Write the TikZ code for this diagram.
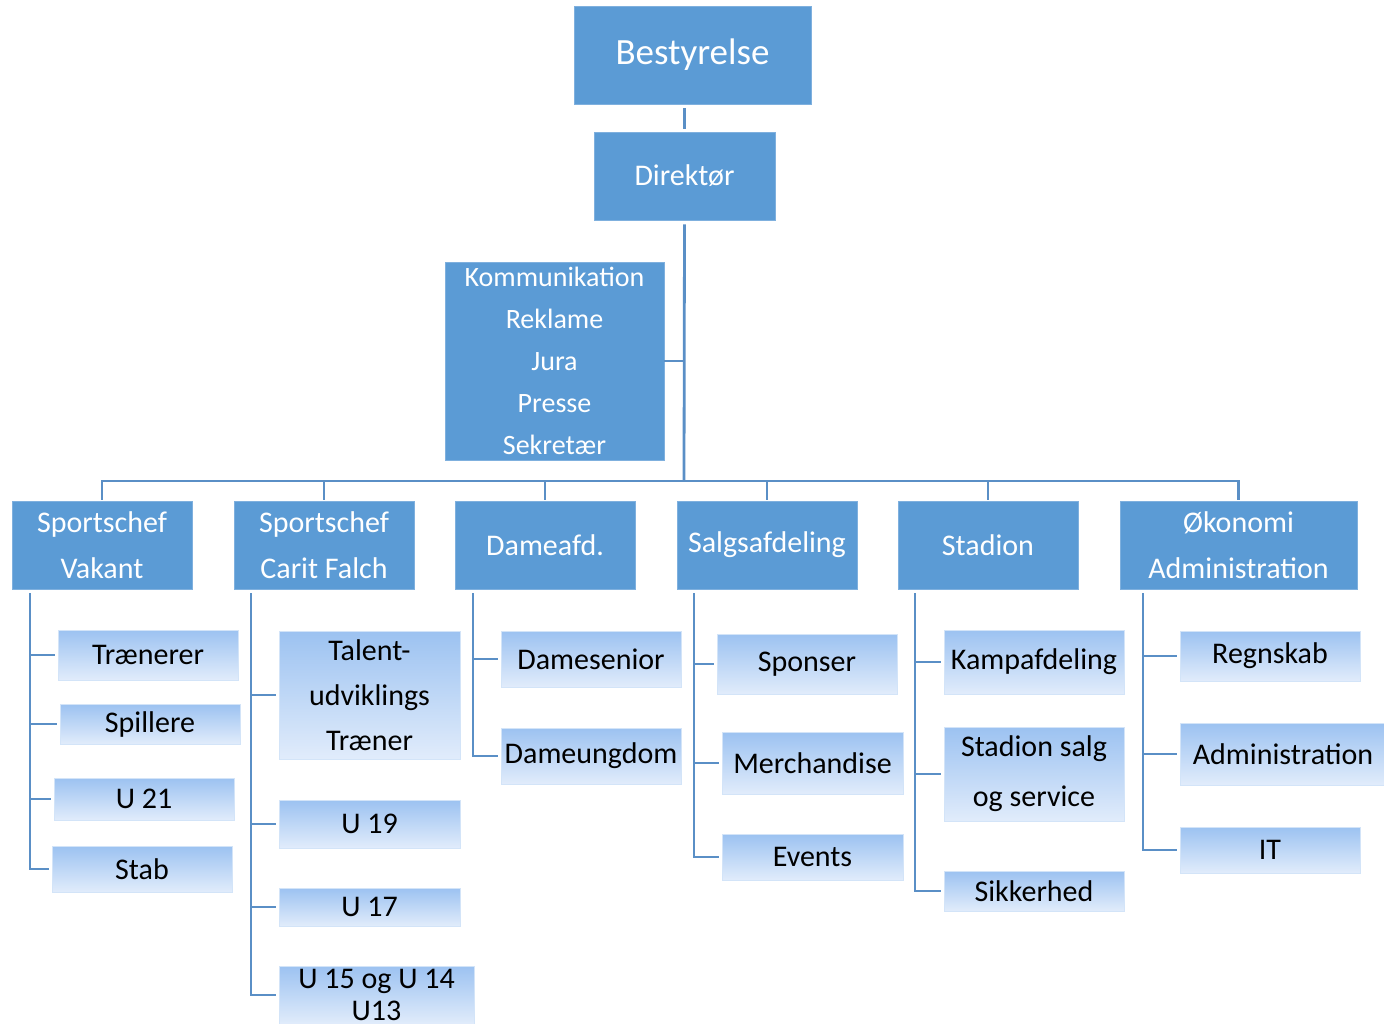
\documentclass[tikz,border=0pt]{standalone}
\usepackage{fontspec}
\setmainfont{Carlito}
\definecolor{topblue}{HTML}{5B9BD5}
\definecolor{topedge}{HTML}{7FB0DE}
\definecolor{subtop}{HTML}{9CC2F1}
\definecolor{subbot}{HTML}{E1ECFB}
\definecolor{subedge}{HTML}{D3E4F8}
\definecolor{linkblue}{HTML}{5A8FC6}
\tikzset{
  boss/.style={fill=topblue, draw=topedge, line width=0.8pt, text=white, align=center, inner sep=0pt},
  sub/.style={top color=subtop, bottom color=subbot, draw=subedge, line width=0.8pt, text=black, align=center, inner sep=0pt},
  link/.style={draw=linkblue, line width=2.8pt},
  fsz/.style={font=\fontsize{30}{46}\selectfont},
  box/.style 2 args={minimum width=#1pt, minimum height=#2pt},
}
\begin{document}
\begin{tikzpicture}[x=1pt,y=-1pt]
\useasboundingbox (0,0) rectangle (1384,1023);
% top
\node[boss, box={237}{98}, font=\fontsize{37}{44}\selectfont] (best) at (692.5,55) {Bestyrelse};
\node[boss, box={181}{88}, fsz] (dir) at (684.5,176) {Direktør};
\node[boss, box={219}{198}, font=\fontsize{28}{42}\selectfont] (kom) at (554.5,361)
  {Kommunikation\\Reklame\\Jura\\Presse\\Sekretær};
\coordinate (bus) at (684,481);
% level 2
\node[boss, box={180}{88}, fsz] (l1) at (102,545) {Sportschef\\Vakant};
\node[boss, box={180}{88}, fsz] (l2) at (324,545) {Sportschef\\Carit Falch};
\node[boss, box={180}{88}, fsz] (l3) at (545,545) {Dameafd.};
\node[boss, box={180}{88}, fsz] (l4) at (767,545) {Salgsafdeling};
\node[boss, box={180}{88}, fsz] (l5) at (988,545) {Stadion};
\node[boss, box={237}{88}, fsz] (l6) at (1238.5,545) {Økonomi\\Administration};
% column 1
\node[sub, box={180}{50}, fsz] (a1) at (148,655) {Trænerer};
\node[sub, box={180}{40}, fsz] (a2) at (150,724) {Spillere};
\node[sub, box={180}{42}, fsz] (a3) at (144,799) {U 21};
\node[sub, box={180}{46}, fsz] (a4) at (142,869) {Stab};
% column 2
\node[sub, box={181}{128}, font=\fontsize{30}{45}\selectfont] (b1) at (369.5,695) {Talent-\\udviklings\\Træner};
\node[sub, box={181}{48}, fsz] (b2) at (369.5,824) {U 19};
\node[sub, box={181}{38}, fsz] (b3) at (369.5,907) {U 17};
\node[sub, box={195}{58}, font=\fontsize{30}{32}\selectfont] (b4) at (376.5,995) {U 15 og U 14\\U13};
% column 3
\node[sub, box={180}{56}, fsz] (c1) at (591,659) {Damesenior};
\node[sub, box={180}{56}, fsz] (c2) at (591,756) {Dameungdom};
% column 4
\node[sub, box={180}{60}, fsz] (d1) at (807,664) {Sponser};
\node[sub, box={181}{62}, fsz] (d2) at (812.5,763) {Merchandise};
\node[sub, box={181}{46}, fsz] (d3) at (812.5,857) {Events};
% column 5
\node[sub, box={180}{64}, fsz] (e1) at (1034,662) {Kampafdeling};
\node[sub, box={180}{94}, font=\fontsize{30}{50}\selectfont] (e2) at (1034,774) {Stadion salg\\og service};
\node[sub, box={180}{40}, fsz] (e3) at (1034,891) {Sikkerhed};
% column 6
\node[sub, box={180}{50}, fsz] (f1) at (1270,656) {Regnskab};
\node[sub, box={206}{62}, fsz] (f2) at (1283,754) {Administration};
\node[sub, box={180}{46}, fsz] (f3) at (1270,850) {IT};
% connectors top
\draw[link, shorten <=4pt, shorten >=3pt] (best.south -| dir.north) -- (dir.north);
\draw[link, shorten <=4pt] (dir.south) -- (bus);
\draw[link] (kom.east) -- (kom.east -| bus);
\draw[link, shorten <=1pt, shorten >=1pt] (l1.north) |- (bus) -| (l6.north);
\foreach \n in {l2,l3,l4,l5}{
  \draw[link, shorten >=1pt] (bus -| \n.north) -- (\n.north);
}
% column spines
\coordinate (s1) at (30,593);
\coordinate (s2) at (251,593);
\coordinate (s3) at (473,593);
\coordinate (s4) at (694,593);
\coordinate (s5) at (915,593);
\coordinate (s6) at (1143,593);
\foreach \s/\list/\last in {s1/{a1,a2,a3}/a4, s2/{b1,b2,b3}/b4, s3/{c1}/c2, s4/{d1,d2}/d3, s5/{e1,e2}/e3, s6/{f1,f2}/f3}{
  \draw[link, shorten >=3pt] (\s) |- (\last.west);
  \foreach \c in \list {
    \draw[link, shorten >=3pt] (\s |- \c.west) -- (\c.west);
  }
}
\end{tikzpicture}
\end{document}
